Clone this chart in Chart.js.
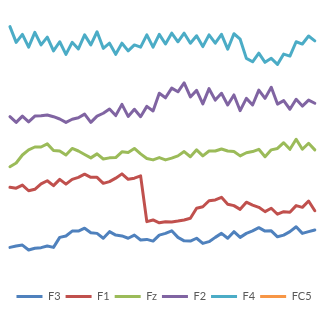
<!DOCTYPE html>
<html>
<head>
<meta charset="utf-8">
<script src="https://cdn.jsdelivr.net/npm/chart.js@4/dist/chart.umd.min.js"></script>
<style>
  html, body { margin: 0; padding: 0; background: #fff; }
  #wrap { width: 328px; height: 312px; position: relative; }
</style>
</head>
<body>
<div id="wrap"><canvas id="eegChart"></canvas></div>
<script>
// sample index (no axis shown in the original)
const samples = [1, 2, 3, 4, 5, 6, 7, 8, 9, 10, 11, 12, 13, 14, 15, 16, 17, 18, 19, 20,
    21, 22, 23, 24, 25, 26, 27, 28, 29, 30, 31, 32, 33, 34, 35, 36, 37, 38, 39, 40,
    41, 42, 43, 44, 45, 46, 47, 48, 49, 50];

const f3 = [13.5, 14.0, 14.3, 12.6, 13.2, 13.4, 14.0, 13.5, 17.0, 17.5, 19.2, 19.2, 20.2, 18.6, 18.4, 16.7, 19.0, 17.8, 17.5, 16.7,
    17.8, 16.1, 16.3, 15.7, 17.8, 18.4, 19.3, 17.0, 15.8, 15.7, 16.7, 14.9, 15.5, 17.0, 18.4, 16.7, 19.0, 17.0, 18.4, 19.3,
    20.4, 19.2, 19.3, 17.2, 17.8, 19.0, 20.7, 18.4, 19.0, 19.6];

const f1 = [34.5, 34.2, 35.3, 33.3, 33.8, 35.7, 36.8, 35.1, 37.3, 35.6, 37.3, 38.0, 39.1, 38.0, 38.0, 35.9, 36.5, 37.7, 39.2, 37.3,
    37.7, 38.5, 22.5, 23.1, 22.1, 22.5, 22.4, 22.7, 23.1, 23.7, 27.2, 27.7, 29.8, 30.1, 31.0, 28.6, 28.1, 26.8, 29.3, 28.3,
    27.5, 26.0, 27.2, 25.1, 26.0, 25.8, 28.1, 27.5, 29.7, 26.3];

const fz = [41.7, 43.0, 45.8, 47.6, 48.6, 48.6, 49.7, 47.4, 47.2, 45.8, 48.1, 47.2, 46.0, 44.8, 46.2, 44.4, 44.8, 44.9, 46.9, 46.7,
    48.1, 46.2, 44.6, 44.1, 44.9, 44.1, 44.7, 45.5, 47.0, 45.2, 47.6, 45.5, 47.2, 47.2, 47.9, 47.2, 47.0, 45.5, 46.6, 47.0,
    47.8, 45.2, 47.6, 48.1, 50.1, 47.8, 51.3, 47.8, 49.9, 47.6];

const f2 = [59.2, 57.2, 59.4, 57.4, 59.4, 59.5, 59.8, 59.2, 58.4, 57.2, 58.3, 58.8, 60.1, 57.2, 59.4, 60.4, 61.9, 59.6, 63.5, 59.3,
    61.8, 59.2, 62.8, 61.2, 67.4, 65.8, 69.2, 67.9, 71.0, 66.1, 68.4, 63.7, 69.0, 65.0, 67.4, 63.3, 66.8, 61.3, 65.6, 63.3,
    68.5, 65.6, 69.5, 63.6, 64.8, 61.8, 65.3, 62.9, 65.0, 63.9];

const f4 = [90.7, 85.2, 88.0, 83.5, 88.7, 84.3, 87.0, 82.2, 85.4, 81.0, 85.2, 82.9, 87.8, 84.3, 88.9, 83.1, 84.9, 81.0, 84.9, 82.2,
    84.3, 83.5, 87.8, 83.5, 88.0, 84.6, 88.4, 85.4, 88.4, 84.9, 87.5, 83.7, 87.8, 84.9, 88.0, 82.8, 88.2, 86.3, 79.6, 78.4,
    81.4, 78.2, 79.6, 77.5, 81.1, 80.4, 85.4, 84.6, 87.4, 85.7];

// FC5 is listed in the legend but no line is visible in the picture
const fc5 = [];

const seriesNames = ["F3", "F1", "Fz", "F2", "F4", "FC5"];
const seriesData = [f3, f1, fz, f2, f4, fc5];
const colors = ["#4F81BD", "#C0504D", "#9BBB59", "#8064A2", "#4BACC6", "#F79646"];

const ctx = document.getElementById("eegChart").getContext("2d");

new Chart(ctx, {
    type: "line",
    data: {
        labels: samples,
        datasets: seriesNames.map((name, i) => ({
            label: name,
            data: seriesData[i],
            borderColor: colors[i],
            backgroundColor: colors[i],
            borderWidth: 3,
            pointRadius: 0,
            tension: 0,
            borderJoinStyle: "round",
            borderCapStyle: "round",
            fill: false,
        })),
    },
    options: {
        responsive: true,
        maintainAspectRatio: false,
        animation: false,
        layout: {
            padding: 0,
        },
        scales: {
            // a little slack on both ends so the lines sit inside the frame
            x: { type: "linear", display: false, min: -0.6, max: 52.12 },
            y: { display: false, min: 0, max: 100 },
        },
        plugins: {
            tooltip: { enabled: false },
            legend: {
                position: "bottom",
                labels: {
                    boxWidth: 26,
                    boxHeight: 3,
                    padding: 5,
                    color: "#595959",
                    font: { family: "Lato", size: 11 },
                    generateLabels: (chart) =>
                        Chart.defaults.plugins.legend.labels
                            .generateLabels(chart)
                            .map((l) => ({ ...l, lineWidth: 0 })),
                },
            },
        },
    },
});
</script>
</body>
</html>
